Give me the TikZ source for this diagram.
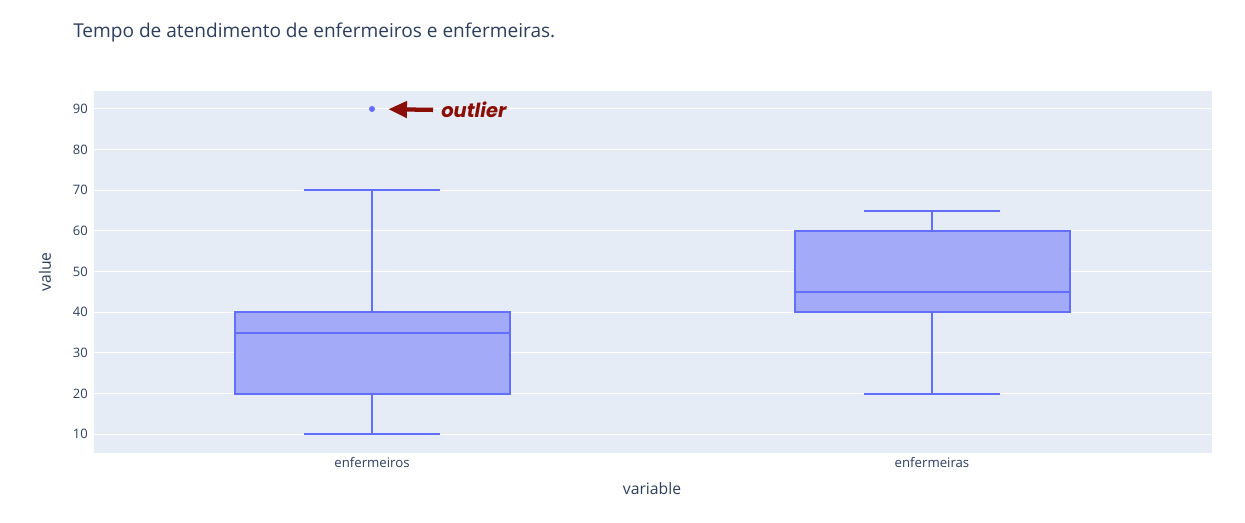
\documentclass[tikz,border=0pt]{standalone}
\usepackage{fontspec}
\setmainfont{Open Sans}
\newfontfamily\outfont{Poppins}
\usetikzlibrary{arrows.meta}

\definecolor{plotbg}{HTML}{E5ECF6}
\definecolor{boxline}{HTML}{636EFA}
\definecolor{boxfill}{HTML}{A3AAF8}
\definecolor{axtext}{HTML}{2A3F5F}
\definecolor{outred}{HTML}{8B0E04}

\tikzset{
  grid line/.style={white, line width=0.75pt},
  tick label/.style={anchor=east, inner sep=0pt, text=axtext, font=\fontsize{9.75}{11}\selectfont},
  cat label/.style={inner sep=0pt, text=axtext, font=\fontsize{9.9}{11}\selectfont},
  axis title/.style={inner sep=0pt, text=axtext, font=\fontsize{11.8}{13}\selectfont},
  boxbody/.style={draw=boxline, fill=boxfill, line width=1.5pt},
  whisker/.style={draw=boxline, line width=1.5pt},
}

\begin{document}
\begin{tikzpicture}[x=0.75pt,y=-0.75pt]
	\useasboundingbox (0,0) rectangle (1245,523);
	\fill[plotbg] (94,91) rectangle (1212,453);
	\node[anchor=west, inner sep=0pt, text=axtext, font=\fontsize{14.3}{16}\selectfont] (title) at (73,33) {Tempo de atendimento de enfermeiros e enfermeiras.};
	\begin{scope}[shift={(0,475)}, y=3.05pt]
		% grid and ticks
		\foreach \v in {10,20,...,90} {
			\draw[grid line] (94,\v) -- (1212,\v);
			\node[tick label] (tick\v) at (88,\v) {\v};
		}
		% boxes
		\foreach \cx/\lo/\qa/\md/\qb/\hi in {372/10/20/35/40/70, 932/20/40/45/60/65} {
			\draw[whisker] (\cx,\lo) -- (\cx,\hi);
			\draw[whisker] (\cx-68,\lo) -- (\cx+68,\lo);
			\draw[whisker] (\cx-68,\hi) -- (\cx+68,\hi);
			\draw[boxbody] (\cx-137.5,\qa) rectangle (\cx+137.5,\qb);
			\draw[whisker] (\cx-137.5,\md) -- (\cx+137.5,\md);
		}
		\node[circle, fill=boxline, inner sep=0pt, minimum size=4.5pt] (opt) at (372,90) {};
	\end{scope}
	\node[anchor=west, inner sep=0pt, text=outred, font=\outfont\fontsize{14.6}{16}\selectfont\bfseries\itshape] (olab) at (441,110) {outlier};
	\draw[outred, line width=3.2pt, -{Triangle[length=14pt,width=12pt]}, shorten <=6pt, shorten >=9.75pt] (olab.west) -- (opt);
	\node[cat label] (cat1) at (372,463) {enfermeiros};
	\node[cat label] (cat2) at (932,463) {enfermeiras};
	\node[axis title] (xtitle) at (652,489) {variable};
	\node[axis title, rotate=90] (ytitle) at (45,272) {value};
\end{tikzpicture}
\end{document}
